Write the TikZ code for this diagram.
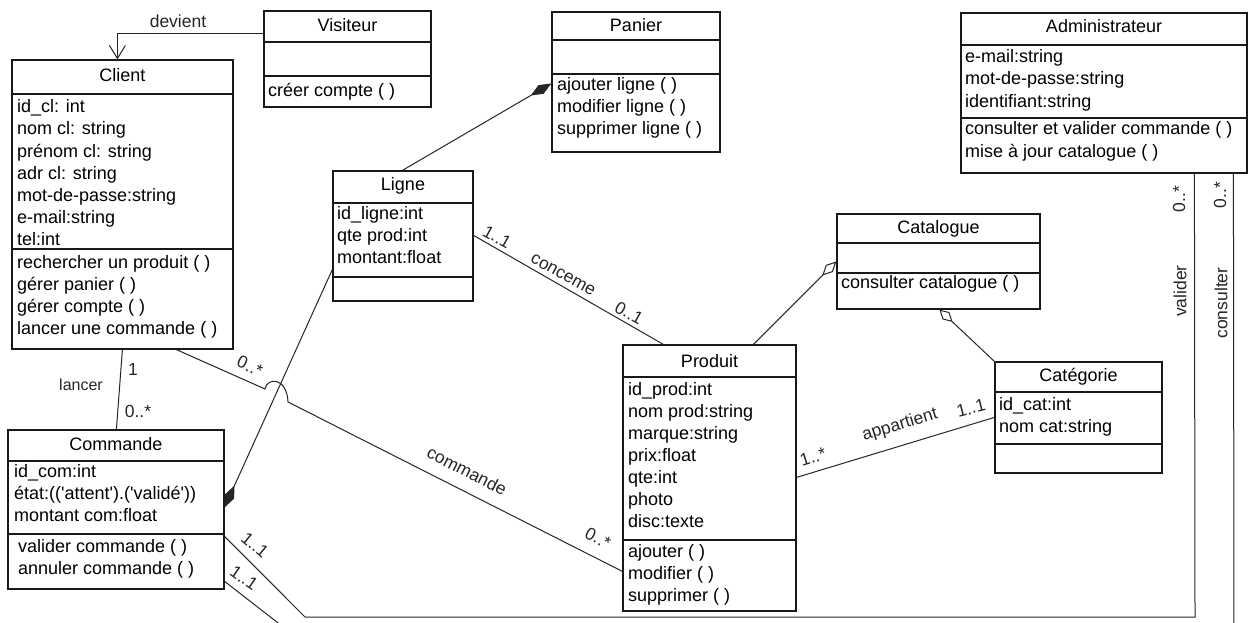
\documentclass[tikz,border=0pt]{standalone}
\usepackage{fontspec}
\setmainfont{Liberation Sans}[Ligatures=TeXOff]
\usetikzlibrary{arrows.meta,calc,fit}

\tikzset{
  frame/.style={draw=black!90, line width=1.2pt},
  ttl/.style={anchor=base, inner sep=0pt, font=\fontsize{18}{22}\selectfont},
  mem/.style={anchor=base west, inner sep=0pt, font=\fontsize{18}{22}\selectfont},
  assoc/.style={draw=black!85, line width=1pt},
  lbl/.style={inner sep=0pt, font=\fontsize{17.5}{20}\selectfont, text=black!85},
}

% class box: name, x1, y1, x2, y2, first divider, second divider
\newcommand\umlclass[7]{%
  \coordinate (#1-nw) at (#2,#3);
  \coordinate (#1-se) at (#4,#5);
  \node[frame, inner sep=0pt, fit=(#1-nw)(#1-se)] (#1) {};
  \draw[frame] (#2,#6) -- (#4,#6);
  \draw[frame] (#2,#7) -- (#4,#7);
}
% class name: name, x, baseline, text
\newcommand\umltitle[4]{\node[ttl] (#1-title) at (#2,#3) {#4};}
% member lines: prefix, x, first baseline, list
\newcommand\umllines[4]{%
  \foreach \txt [count=\i from 0] in {#4}
    \node[mem] (#1-\i) at (#2,#3+22*\i) {\txt};
}

\begin{document}
\begin{tikzpicture}[x=1pt,y=-1pt]
\useasboundingbox (0,0) rectangle (1249,623);
\fill[white] (0,0) rectangle (1249,623);
\clip (0,0) rectangle (1249,623);

% Visiteur
\umlclass{visiteur}{264}{11}{431}{107}{42}{76}
\umltitle{visiteur}{347.5}{32}{Visiteur}
\umllines{visiteur-m}{268}{97}{créer compte ( )}

% Client
\umlclass{client}{12}{60}{233}{349}{94}{249}
\umltitle{client}{122.5}{82}{Client}
\umllines{client-a}{17}{113}{id\_cl: int, nom cl: string, prénom cl: string, adr cl: string, mot-de-passe:string, e-mail:string, tel:int}
\umllines{client-m}{17}{268}{rechercher un produit ( ), gérer panier ( ), gérer compte ( ), lancer une commande ( )}

% Panier
\umlclass{panier}{552}{12}{720}{152}{40}{74}
\umltitle{panier}{636}{32}{Panier}
\umllines{panier-m}{557}{91}{ajouter ligne ( ), modifier ligne ( ), supprimer ligne ( )}

% Administrateur
\umlclass{admin}{961}{13}{1247}{173}{45}{118}
\umltitle{admin}{1104}{33}{Administrateur}
\umllines{admin-a}{965}{63}{e-mail:string, mot-de-passe:string, identifiant:string}
\umllines{admin-m}{965}{135}{consulter et valider commande ( ), mise à jour catalogue ( )}

% Ligne
\umlclass{ligne}{333}{171}{473}{301}{203}{277}
\umltitle{ligne}{403}{190}{Ligne}
\umllines{ligne-a}{337}{219}{id\_ligne:int, qte prod:int, montant:float}

% Catalogue
\umlclass{catalogue}{837}{214}{1040}{309}{243}{273}
\umltitle{catalogue}{938.5}{233}{Catalogue}
\umllines{catalogue-m}{841}{288}{consulter catalogue ( )}

% Produit
\umlclass{produit}{623}{345}{796}{611}{377}{540}
\umltitle{produit}{709.5}{367}{Produit}
\umllines{produit-a}{628}{395}{id\_prod:int, nom prod:string, marque:string, prix:float, qte:int, photo, disc:texte}
\umllines{produit-m}{628}{557}{ajouter ( ), modifier ( ), supprimer ( )}

% Categorie
\umlclass{categorie}{995}{362}{1162}{473}{392}{444}
\umltitle{categorie}{1078.5}{381}{Catégorie}
\umllines{categorie-a}{999}{410}{id\_cat:int, nom cat:string}

% Commande
\umlclass{commande}{8}{430}{224}{589}{461}{534}
\umltitle{commande}{116}{450}{Commande}
\umllines{commande-a}{14}{477}{id\_com:int, état:(('attent').('validé')), montant com:float}
\umllines{commande-m}{18}{552}{valider commande ( ), annuler commande ( )}

% Visiteur -> Client
\draw[assoc, -{Straight Barb[length=13pt,width=16pt]}]
  ($(visiteur.north west)+(0,23)$) -| ($(client.north west)+(106,0)$);
\node[lbl] (devient) at (178,21) {devient};

% Client -- Commande (lancer)
\draw[assoc] ($(client.south west)+(111,0)$) -- ($(commande.north west)+(109,0)$);
\node[lbl, font=\fontsize{16}{18}\selectfont] (lancer) at (81,385) {lancer};
\node[lbl] (lancer-m1) at (133,369) {1};
\node[lbl] (lancer-m2) at (138,411) {0..*};

% Client -- Produit (commande), hopping over the Ligne/Commande line
\coordinate (hopA) at (265,389);
\coordinate (hopB) at (288,402);
\draw[assoc] ($(client.south west)+(165,0)$) -- (hopA)
  .. controls (267,377) and (287,377) .. (hopB)
  -- ($(produit.north west)+(0,227)$);
\node[lbl, rotate=-25] (cmd-m1) at (250,366) {0..*};
\node[lbl, rotate=-27] (cmd-name) at (467,471) {commande};
\node[lbl, rotate=-27] (cmd-m2) at (598,538) {0..*};

% Ligne -- Panier, Ligne -- Commande (composition)
\draw[assoc, -{Diamond[length=24pt,width=10pt]}]
  ($(ligne.north west)+(70,0)$) -- ($(panier.north west)+(0,72)$);
\draw[assoc, -{Diamond[length=24pt,width=10pt]}]
  ($(ligne.north west)+(0,99)$) -- ($(commande.north east)+(0,78)$);

% Ligne -- Produit
\draw[assoc] ($(ligne.north east)+(0,65)$) -- ($(produit.north west)+(41,0)$);
\node[lbl, rotate=-29] (con-m1) at (497,237) {1..1};
\node[lbl, rotate=-29] (con-name) at (563,275) {conceme};
\node[lbl, rotate=-29] (con-m2) at (629,313) {0..1};

% Catalogue aggregations
\draw[assoc, {Diamond[open,length=20pt,width=10pt]}-]
  ($(catalogue.north west)+(0,48)$) -- ($(produit.north west)+(131,0)$);
\draw[assoc, {Diamond[open,length=18pt,width=10pt]}-]
  ($(catalogue.south west)+(103,0)$) -- (categorie.north west);

% Produit -- Categorie
\draw[assoc] ($(produit.north east)+(0,133)$) -- ($(categorie.north west)+(0,56)$);
\node[lbl, rotate=17] (app-m1) at (813,457) {1..*};
\node[lbl, rotate=17] (app-name) at (900,425) {appartient};
\node[lbl, rotate=14] (app-m2) at (971,408) {1..1};

% Administrateur -- Commande (valider)
\coordinate (valA) at (1195,617);
\coordinate (valB) at (305,617);
\draw[assoc] ($(admin.south west)+(234,0)$) -- (valA) -- (valB)
  -- ($(commande.north east)+(0,107)$);
\node[lbl, rotate=90] (val-name) at (1180,291) {valider};
\node[lbl, rotate=90] (val-m1) at (1179,199) {0..*};
\node[lbl, rotate=-40] (val-m2) at (255,545) {1..1};

% Administrateur -- Commande (consulter)
\coordinate (conA) at (1234,640);
\coordinate (conB) at (300,640);
\draw[assoc] ($(admin.south west)+(273,0)$) -- (conA) -- (conB)
  -- ($(commande.north east)+(0,152)$);
\node[lbl, rotate=90] (cons-name) at (1221,303) {consulter};
\node[lbl, rotate=90] (cons-m1) at (1220,195) {0..*};
\node[lbl, rotate=-35] (cons-m2) at (244,578) {1..1};
\end{tikzpicture}
\end{document}
